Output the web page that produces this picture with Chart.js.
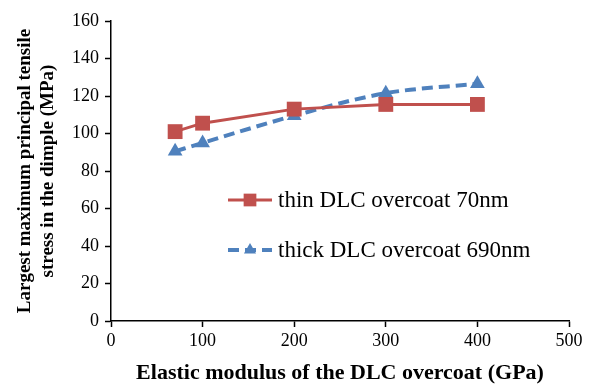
<!DOCTYPE html>
<html>
<head>
<meta charset="utf-8">
<script src="https://cdn.jsdelivr.net/npm/chart.js@4.4.1/dist/chart.umd.min.js"></script>
<style>
  html, body { margin: 0; padding: 0; background: #fff; }
  #wrap { width: 592px; height: 384px; }
</style>
</head>
<body>
<div id="wrap"><canvas id="chart" width="592" height="384"></canvas></div>
<script>
// Datos
const modulus = [70, 100, 200, 300, 400];
const thinStress = [101, 105.5, 113, 115.5, 115.5];
const thickStress = [90.5, 95, 109.5, 121.5, 126.5];
const seriesNames = ['thin DLC overcoat 70nm', 'thick DLC overcoat 690nm'];
const xTitle = 'Elastic modulus of the DLC overcoat (GPa)';
const yTitle = ['Largest maximum principal tensile', 'stress in the dimple (MPa)'];

const RED = '#C0504D';
const BLUE = '#4F81BD';
const serif = '"Liberation Serif", "Times New Roman", serif';

// Leyenda dibujada dentro del área del gráfico
const insideLegend = {
  id: 'insideLegend',
  afterDraw: (chart) => {
    const ctx = chart.ctx;
    const rows = [
      { y: 200, ds: chart.data.datasets[0] },
      { y: 250, ds: chart.data.datasets[1] }
    ];
    ctx.save();
    rows.forEach(({ y, ds }) => {
      ctx.strokeStyle = ds.borderColor;
      ctx.lineWidth = ds.borderWidth;
      ctx.setLineDash(ds.borderDash || []);
      ctx.beginPath();
      ctx.moveTo(228, y);
      ctx.lineTo(272, y);
      ctx.stroke();
      ctx.setLineDash([]);
      ctx.fillStyle = ds.backgroundColor;
      Chart.helpers.drawPoint(ctx, {
        pointStyle: ds.pointStyle,
        radius: ds.pointRadius - 1.5,
        borderWidth: 0
      }, 250, y);
      ctx.fillStyle = '#000';
      ctx.font = '23px ' + serif;
      ctx.textBaseline = 'middle';
      ctx.fillText(ds.label, 278, y + 1);
    });
    ctx.restore();
  }
};

const tickGrid = { display: true, drawOnChartArea: false, drawTicks: true, tickLength: 6, tickColor: '#000', tickWidth: 1.5 };

new Chart(document.getElementById('chart'), {
  type: 'line',
  data: {
    datasets: [
      {
        label: seriesNames[0],
        data: modulus.map((x, i) => ({ x, y: thinStress[i] })),
        borderColor: RED,
        backgroundColor: RED,
        borderWidth: 3,
        pointStyle: 'rect',
        pointRadius: 10.5,
        pointBorderWidth: 0,
        tension: 0
      },
      {
        label: seriesNames[1],
        data: modulus.map((x, i) => ({ x, y: thickStress[i] })),
        borderColor: BLUE,
        backgroundColor: BLUE,
        borderWidth: 4,
        borderDash: [11, 6],
        pointStyle: 'triangle',
        pointRadius: 8.5,
        pointBorderWidth: 0,
        cubicInterpolationMode: 'monotone'
      }
    ]
  },
  options: {
    responsive: false,
    animation: false,
    layout: { padding: { top: 21, right: 23, left: 0, bottom: 0 } },
    plugins: { legend: { display: false }, tooltip: { enabled: false } },
    scales: {
      x: {
        type: 'linear',
        min: 0,
        max: 500,
        ticks: { stepSize: 100, color: '#000', font: { family: serif, size: 18 }, padding: 3 },
        grid: tickGrid,
        border: { color: '#000', width: 1.5 },
        title: { display: true, text: xTitle, color: '#000', font: { family: serif, size: 22, weight: 'bold', lineHeight: 1 }, padding: { top: 14, bottom: 0 } },
        afterFit: (s) => { s.height = 63; }
      },
      y: {
        min: 0,
        max: 160,
        ticks: { stepSize: 20, color: '#000', font: { family: serif, size: 18 }, padding: 6 },
        grid: tickGrid,
        border: { color: '#000', width: 1.5 },
        title: { display: true, text: yTitle, color: '#000', font: { family: serif, size: 19, weight: 'bold', lineHeight: 1.2 }, padding: { top: 14, bottom: 0 } },
        afterFit: (s) => { s.width = 111; }
      }
    }
  },
  plugins: [insideLegend]
});
</script>
</body>
</html>
